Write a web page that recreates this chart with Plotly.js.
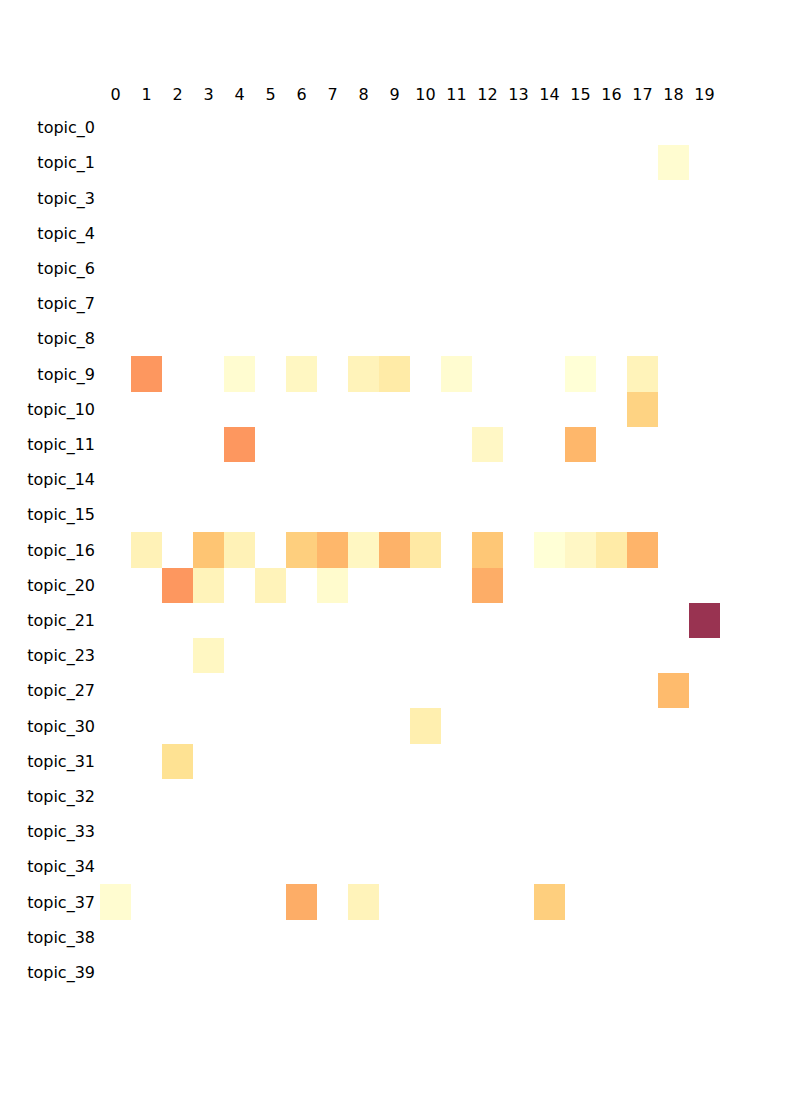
<!DOCTYPE html>
<html>
<head>
<meta charset="utf-8">
<script src="https://cdn.plot.ly/plotly-3.0.1.min.js"></script>
<style>html,body{margin:0;padding:0;background:#fff;}#chart{width:800px;height:1100px;}</style>
</head>
<body>
<div id="chart"></div>
<script>
const columns = ["0","1","2","3","4","5","6","7","8","9","10","11","12","13","14","15","16","17","18","19"];
const topics = ["topic_0","topic_1","topic_3","topic_4","topic_6","topic_7","topic_8","topic_9","topic_10","topic_11","topic_14","topic_15","topic_16","topic_20","topic_21","topic_23","topic_27","topic_30","topic_31","topic_32","topic_33","topic_34","topic_37","topic_38","topic_39"];
const _ = null;
// values per topic row (null = empty cell), columns 0..19
const topic_0  = [_,_,_,_,_,_,_,_,_,_,_,_,_,_,_,_,_,_,_,_];
const topic_1  = [_,_,_,_,_,_,_,_,_,_,_,_,_,_,_,_,_,_,0.02,_];
const topic_3  = [_,_,_,_,_,_,_,_,_,_,_,_,_,_,_,_,_,_,_,_];
const topic_4  = [_,_,_,_,_,_,_,_,_,_,_,_,_,_,_,_,_,_,_,_];
const topic_6  = [_,_,_,_,_,_,_,_,_,_,_,_,_,_,_,_,_,_,_,_];
const topic_7  = [_,_,_,_,_,_,_,_,_,_,_,_,_,_,_,_,_,_,_,_];
const topic_8  = [_,_,_,_,_,_,_,_,_,_,_,_,_,_,_,_,_,_,_,_];
const topic_9  = [_,0.53,_,_,0.02,_,0.07,_,0.10,0.17,_,0.02,_,_,_,0.0,_,0.10,_,_];
const topic_10 = [_,_,_,_,_,_,_,_,_,_,_,_,_,_,_,_,_,0.30,_,_];
const topic_11 = [_,_,_,_,0.53,_,_,_,_,_,_,_,0.06,_,_,0.42,_,_,_,_];
const topic_14 = [_,_,_,_,_,_,_,_,_,_,_,_,_,_,_,_,_,_,_,_];
const topic_15 = [_,_,_,_,_,_,_,_,_,_,_,_,_,_,_,_,_,_,_,_];
const topic_16 = [_,0.11,_,0.36,0.11,_,0.32,0.42,0.07,0.44,0.18,_,0.35,_,0.0,0.06,0.17,0.43,_,_];
const topic_20 = [_,_,0.53,0.10,_,0.10,_,0.03,_,_,_,_,0.46,_,_,_,_,_,_,_];
const topic_21 = [_,_,_,_,_,_,_,_,_,_,_,_,_,_,_,_,_,_,_,1.0];
const topic_23 = [_,_,_,0.07,_,_,_,_,_,_,_,_,_,_,_,_,_,_,_,_];
const topic_27 = [_,_,_,_,_,_,_,_,_,_,_,_,_,_,_,_,_,_,0.40,_];
const topic_30 = [_,_,_,_,_,_,_,_,_,_,0.14,_,_,_,_,_,_,_,_,_];
const topic_31 = [_,_,0.24,_,_,_,_,_,_,_,_,_,_,_,_,_,_,_,_,_];
const topic_32 = [_,_,_,_,_,_,_,_,_,_,_,_,_,_,_,_,_,_,_,_];
const topic_33 = [_,_,_,_,_,_,_,_,_,_,_,_,_,_,_,_,_,_,_,_];
const topic_34 = [_,_,_,_,_,_,_,_,_,_,_,_,_,_,_,_,_,_,_,_];
const topic_37 = [0.02,_,_,_,_,_,0.46,_,0.10,_,_,_,_,_,0.32,_,_,_,_,_];
const topic_38 = [_,_,_,_,_,_,_,_,_,_,_,_,_,_,_,_,_,_,_,_];
const topic_39 = [_,_,_,_,_,_,_,_,_,_,_,_,_,_,_,_,_,_,_,_];

const z = [topic_0,topic_1,topic_3,topic_4,topic_6,topic_7,topic_8,topic_9,topic_10,topic_11,topic_14,topic_15,topic_16,topic_20,topic_21,topic_23,topic_27,topic_30,topic_31,topic_32,topic_33,topic_34,topic_37,topic_38,topic_39];

const ylorrd = [
  [0.0,'#ffffcc'],[0.125,'#ffeda0'],[0.25,'#fed976'],[0.375,'#feb24c'],
  [0.5,'#fd8d3c'],[0.625,'#fc4e2a'],[0.75,'#e31a1c'],[0.875,'#bd0026'],[1.0,'#800026']
];

const trace = {
  type: 'heatmap',
  x: columns,
  y: topics,
  z: z,
  zmin: 0, zmax: 1,
  colorscale: ylorrd,
  showscale: false,
  opacity: 0.8,
  xgap: 0, ygap: 0,
  hoverongaps: false
};

const layout = {
  width: 800, height: 1100,
  margin: {l: 100, r: 80, t: 110, b: 110},
  paper_bgcolor: '#ffffff',
  plot_bgcolor: '#ffffff',
  font: {family: 'DejaVu Sans', size: 16, color: '#000000'},
  xaxis: {
    type: 'category', side: 'top', showgrid: false, zeroline: false,
    showline: false, ticks: '', tickfont: {size: 16}, fixedrange: true,
    ticklabelstandoff: 6
  },
  yaxis: {
    type: 'category', autorange: 'reversed', showgrid: false, zeroline: false,
    showline: false, ticks: '', tickfont: {size: 16}, fixedrange: true,
    ticklabelstandoff: 4
  }
};

Plotly.newPlot('chart', [trace], layout, {displayModeBar: false, staticPlot: true});
</script>
</body>
</html>
